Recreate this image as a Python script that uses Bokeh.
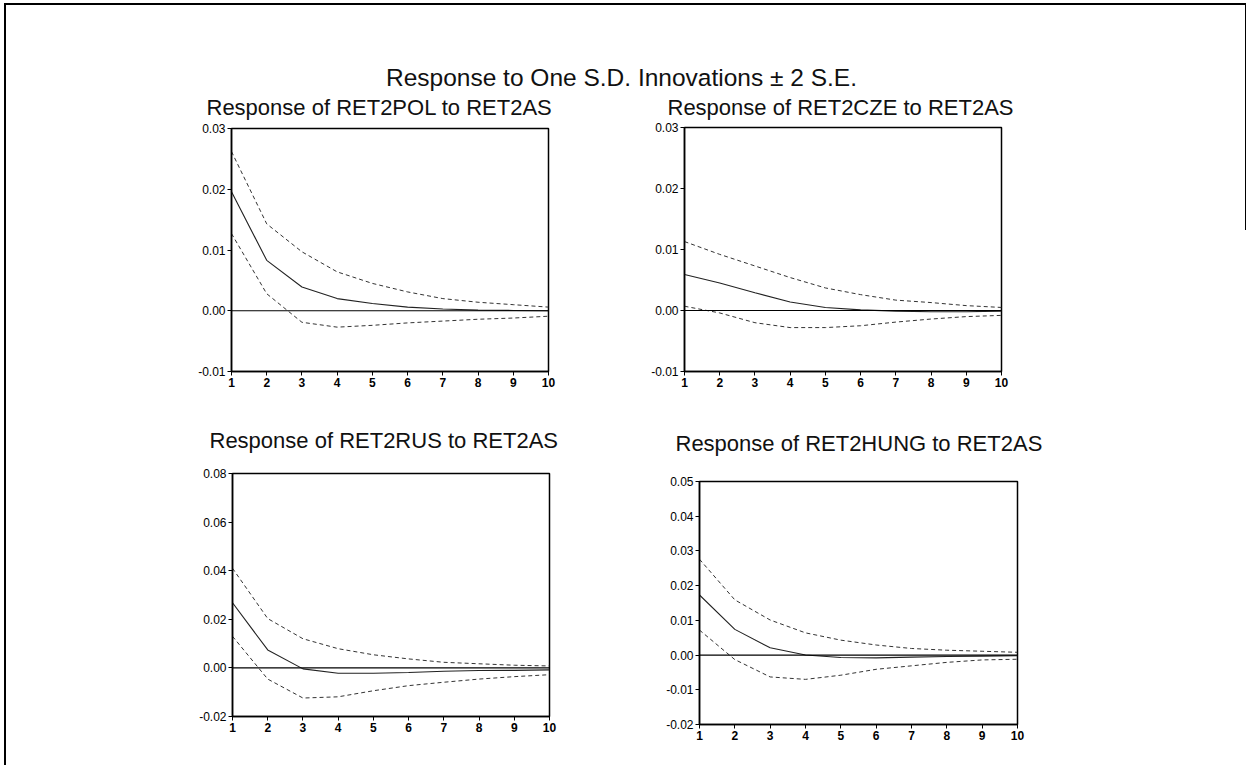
from bokeh.plotting import figure
from bokeh.layouts import column, row
from bokeh.models import Range1d, FixedTicker, NumeralTickFormatter, Span, Label
from bokeh.embed import file_html
from bokeh.resources import INLINE

# ---------------- data ----------------
periods = [1, 2, 3, 4, 5, 6, 7, 8, 9, 10]

main_title = "Response to One S.D. Innovations \u00b1 2 S.E."

pol_title = "Response of RET2POL to RET2AS"
pol_resp = [0.0196, 0.0083, 0.0039, 0.0020, 0.0012, 0.0006, 0.0003, 0.0001, 0.00005, 0.0]
pol_upper = [0.0262, 0.0143, 0.0097, 0.0064, 0.0045, 0.0031, 0.0020, 0.0014, 0.0010, 0.0006]
pol_lower = [0.0127, 0.0028, -0.0019, -0.0027, -0.0024, -0.0020, -0.0017, -0.0014, -0.0012, -0.0009]
pol_ticks = [-0.01, 0.0, 0.01, 0.02, 0.03]

cze_title = "Response of RET2CZE to RET2AS"
cze_resp = [0.0059, 0.0045, 0.0029, 0.0014, 0.0005, 0.0001, -0.0001, -0.0002, -0.0002, -0.0001]
cze_upper = [0.0113, 0.0092, 0.0073, 0.0054, 0.0037, 0.0026, 0.0017, 0.0013, 0.0008, 0.0005]
cze_lower = [0.0007, -0.0004, -0.0020, -0.0028, -0.0028, -0.0025, -0.0019, -0.0014, -0.0010, -0.0008]
cze_ticks = [-0.01, 0.0, 0.01, 0.02, 0.03]

rus_title = "Response of RET2RUS to RET2AS"
rus_resp = [0.0268, 0.0074, -0.0004, -0.0022, -0.0022, -0.0019, -0.0014, -0.0011, -0.0010, -0.0008]
rus_upper = [0.0410, 0.0203, 0.0120, 0.0079, 0.0054, 0.0037, 0.0023, 0.0017, 0.0011, 0.0008]
rus_lower = [0.0130, -0.0046, -0.0124, -0.0119, -0.0094, -0.0073, -0.0059, -0.0046, -0.0036, -0.0028]
rus_ticks = [-0.02, 0.0, 0.02, 0.04, 0.06, 0.08]

hung_title = "Response of RET2HUNG to RET2AS"
hung_resp = [0.0173, 0.0074, 0.0021, 0.0000, -0.0007, -0.0008, -0.0006, -0.0004, -0.0003, -0.0002]
hung_upper = [0.0276, 0.0159, 0.0101, 0.0064, 0.0043, 0.0029, 0.0019, 0.0014, 0.0011, 0.0008]
hung_lower = [0.0072, -0.0013, -0.0063, -0.0070, -0.0058, -0.0041, -0.0031, -0.0021, -0.0014, -0.0012]
hung_ticks = [-0.02, -0.01, 0.0, 0.01, 0.02, 0.03, 0.04, 0.05]

FONT = "Liberation Sans"
INNER_W = 1240


def no_align(p):
    if "frame_align" in p.properties():
        p.frame_align = False


def text_strip(height, items):
    """A blank full-width strip holding title texts (its range is in pixels, y from top)."""
    s = figure(
        width=INNER_W, height=height,
        x_range=Range1d(0, INNER_W), y_range=Range1d(height, 0),
        min_border=0, toolbar_location=None, output_backend="svg",
    )
    s.border_fill_color = None
    s.background_fill_color = None
    s.outline_line_color = None
    s.axis.visible = False
    s.grid.visible = False
    no_align(s)
    for (txt, x, y, size, align) in items:
        s.add_layout(Label(
            x=x, y=y, text=txt, text_align=align, text_baseline="middle",
            text_font=FONT, text_font_size=size, text_color="#111111",
        ))
    return s


def make_panel(resp, upper, lower, ticks, fw, fh, bl, br, bt, bb):
    p = figure(
        frame_width=fw, frame_height=fh,
        min_border_left=bl, min_border_right=br, min_border_top=bt, min_border_bottom=bb,
        x_range=Range1d(periods[0], periods[-1]),
        y_range=Range1d(ticks[0], ticks[-1]),
        toolbar_location=None, output_backend="svg",
    )
    no_align(p)
    p.border_fill_color = None
    p.xgrid.visible = False
    p.ygrid.visible = False
    p.outline_line_color = "black"
    p.outline_line_width = 1.5
    p.outline_line_alpha = 1.0

    for ax in (p.xaxis[0], p.yaxis[0]):
        ax.axis_line_color = "black"
        ax.axis_line_width = 1.5
        ax.major_tick_line_color = "black"
        ax.major_tick_in = 0
        ax.major_tick_out = 4
        ax.minor_tick_line_color = None
        ax.major_label_text_font = FONT
        ax.major_label_text_font_size = "12px"
        ax.major_label_text_color = "black"
        ax.major_label_standoff = 2

    p.xaxis.ticker = FixedTicker(ticks=periods)
    p.xaxis.major_label_text_font_style = "bold"
    p.yaxis.ticker = FixedTicker(ticks=ticks)
    p.yaxis.formatter = NumeralTickFormatter(format="0.00")

    p.add_layout(Span(location=0, dimension="width", line_color="black", line_width=1.2))

    p.line(periods, upper, line_color="#333333", line_width=1, line_dash="4 3")
    p.line(periods, lower, line_color="#333333", line_width=1, line_dash="4 3")
    p.line(periods, resp, line_color="#222222", line_width=1.1)
    return p


header = text_strip(116, [
    (main_title, 615, 72, "24.5px", "center"),
    (pol_title, 200, 102, "22px", "left"),
    (cze_title, 661, 102, "22px", "left"),
])

p1 = make_panel(pol_resp, pol_upper, pol_lower, pol_ticks, 317, 243, 225, 40, 7, 26)
p2 = make_panel(cze_resp, cze_upper, cze_lower, cze_ticks, 317, 244, 96, 245, 6, 26)

band = text_strip(63, [
    (rus_title, 203, 43, "22px", "left"),
    (hung_title, 669, 46, "22px", "left"),
])

p3 = make_panel(rus_resp, rus_upper, rus_lower, rus_ticks, 317, 243, 226, 40, 13, 49)
p4 = make_panel(hung_resp, hung_upper, hung_lower, hung_ticks, 318, 243, 110, 229, 21, 41)

r1 = row(p1, p2)
r2 = row(p3, p4)

layout = column(
    header, r1, band, r2,
    styles={
        "position": "relative",
        "left": "4px",
        "top": "3px",
        "border-left": "2px solid #000",
        "border-top": "2px solid #000",
        "background": "linear-gradient(#000,#000) right top / 1px 225px no-repeat",
    },
)

open("out.html", "w").write(file_html(layout, INLINE))
